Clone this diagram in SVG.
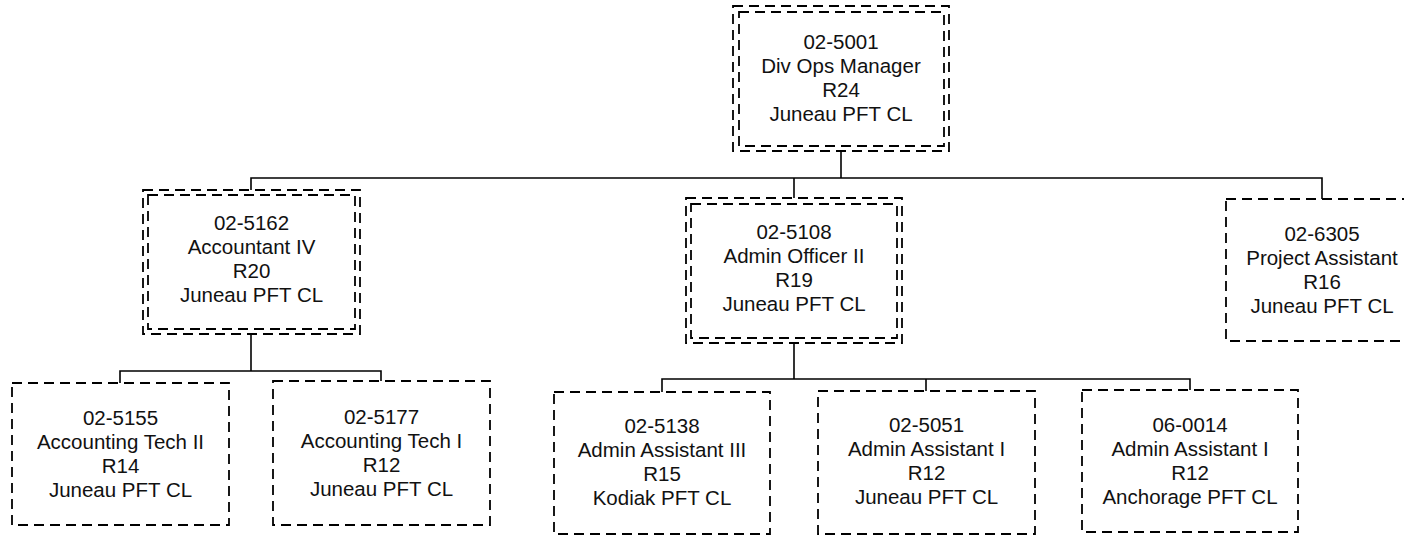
<svg xmlns="http://www.w3.org/2000/svg" width="1404" height="536" viewBox="0 0 1404 536">
<style>
.bx{fill:none;stroke:#000;stroke-width:1.8;stroke-dasharray:10 6}
.ln{fill:none;stroke:#000;stroke-width:1.6}
text{font-family:"Liberation Sans",Arial,sans-serif;font-size:20.5px;fill:#111;text-anchor:middle}
</style>
<rect width="1404" height="536" fill="#fff"/>
<g id="connectors">
<polyline class="ln" points="841,151 841,178"/>
<polyline class="ln" points="251,190 251,178 1322,178 1322,199"/>
<polyline class="ln" points="794,178 794,198"/>
<polyline class="ln" points="251,334 251,371"/>
<polyline class="ln" points="120,383 120,371 381,371 381,381"/>
<polyline class="ln" points="794,343 794,379"/>
<polyline class="ln" points="662,392 662,379 1190,379 1190,390"/>
<polyline class="ln" points="926,379 926,391"/>
</g>
<g id="n5001">
<rect class="bx" x="733" y="6" width="216" height="145"/>
<rect class="bx" x="739" y="12" width="205" height="134"/>
<text x="841" y="48.5">02-5001</text>
<text x="841" y="72.5">Div Ops Manager</text>
<text x="841" y="96.5">R24</text>
<text x="841" y="120.5">Juneau PFT CL</text>
</g>
<g id="n5162">
<rect class="bx" x="143" y="190" width="217" height="144"/>
<rect class="bx" x="148" y="195" width="207" height="134"/>
<text x="251.5" y="230">02-5162</text>
<text x="251.5" y="254">Accountant IV</text>
<text x="251.5" y="278">R20</text>
<text x="251.5" y="302">Juneau PFT CL</text>
</g>
<g id="n5108">
<rect class="bx" x="686" y="198" width="216" height="145"/>
<rect class="bx" x="691" y="204" width="206" height="134"/>
<text x="794" y="239">02-5108</text>
<text x="794" y="263">Admin Officer II</text>
<text x="794" y="287">R19</text>
<text x="794" y="311">Juneau PFT CL</text>
</g>
<g id="n6305">
<rect class="bx" x="1226" y="199" width="192" height="142"/>
<text x="1322" y="241">02-6305</text>
<text x="1322" y="265">Project Assistant</text>
<text x="1322" y="289">R16</text>
<text x="1322" y="313">Juneau PFT CL</text>
</g>
<g id="n5155">
<rect class="bx" x="12" y="383" width="217" height="142"/>
<text x="120.5" y="425">02-5155</text>
<text x="120.5" y="449">Accounting Tech II</text>
<text x="120.5" y="473">R14</text>
<text x="120.5" y="497">Juneau PFT CL</text>
</g>
<g id="n5177">
<rect class="bx" x="273" y="381" width="217" height="144"/>
<text x="381.5" y="424">02-5177</text>
<text x="381.5" y="448">Accounting Tech I</text>
<text x="381.5" y="472">R12</text>
<text x="381.5" y="496">Juneau PFT CL</text>
</g>
<g id="n5138">
<rect class="bx" x="554" y="392" width="216" height="142"/>
<text x="662" y="433">02-5138</text>
<text x="662" y="457">Admin Assistant III</text>
<text x="662" y="481">R15</text>
<text x="662" y="505">Kodiak PFT CL</text>
</g>
<g id="n5051">
<rect class="bx" x="818" y="391" width="217" height="143"/>
<text x="926.5" y="432">02-5051</text>
<text x="926.5" y="456">Admin Assistant I</text>
<text x="926.5" y="480">R12</text>
<text x="926.5" y="504">Juneau PFT CL</text>
</g>
<g id="n0014">
<rect class="bx" x="1082" y="390" width="216" height="142"/>
<text x="1190" y="432">06-0014</text>
<text x="1190" y="456">Admin Assistant I</text>
<text x="1190" y="480">R12</text>
<text x="1190" y="504">Anchorage PFT CL</text>
</g>
</svg>
